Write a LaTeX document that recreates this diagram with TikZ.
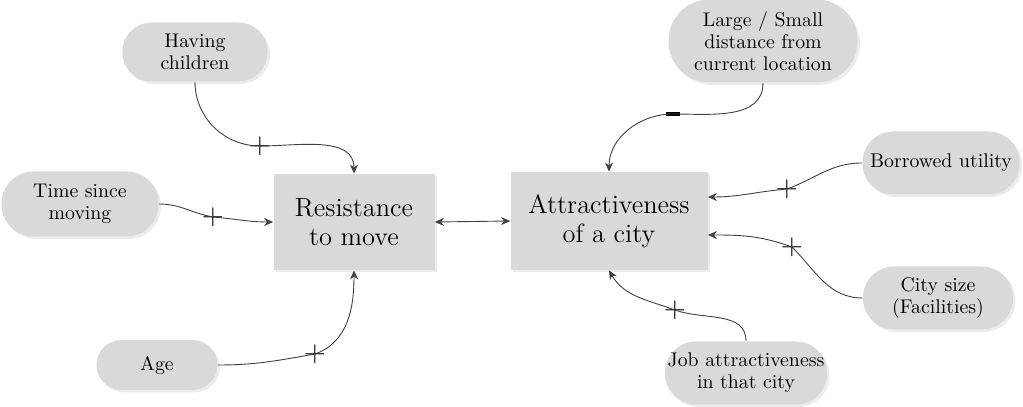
\documentclass[tikz,border=0pt]{standalone}
\usetikzlibrary{arrows.meta,shadows}

\definecolor{boxgray}{RGB}{217,217,217}
\definecolor{shadegray}{RGB}{236,236,236}
\definecolor{linegray}{RGB}{64,64,64}

\tikzset{
  factor/.style={rectangle, fill=boxgray, inner sep=0pt, align=center, font=\fontsize{13.2}{14.5}\selectfont,
                 general shadow={fill=shadegray, shadow xshift=1.2pt, shadow yshift=-1.2pt}},
  pill/.style={rectangle, rounded corners=15pt, fill=boxgray, inner sep=0pt, align=center, font=\fontsize{9.9}{11}\selectfont,
               general shadow={fill=shadegray, shadow xshift=1.2pt, shadow yshift=-1.2pt}},
  sign/.style={inner sep=0pt, text height=7.25pt, text depth=0pt, font=\fontsize{14.5}{14.5}\selectfont},
  link/.style={draw=linegray, line width=0.45pt, -{Stealth[length=4.5pt, width=4pt]}}
}

\begin{document}
\begin{tikzpicture}[x=0.5pt, y=0.5pt]

         \useasboundingbox (0,0) rectangle (1023,407);

         \node [factor, minimum width=80.5pt, minimum height=48pt]                    (resist)   at (354,185)   {Resistance\\to move};
         \node [factor, minimum width=98.5pt, minimum height=49pt]                    (attract)  at (609,186)   {Attractiveness\\of a city};

         \node [pill, minimum width=72.5pt, minimum height=29.5pt, rounded corners=14.5pt] (children) at (195,355)   {Having\\children};
         \node [pill, minimum width=78.5pt, minimum height=32.5pt, rounded corners=16pt]   (moving)   at (80,203)    {Time since\\moving};
         \node [pill, minimum width=60.5pt, minimum height=25pt, rounded corners=12.5pt]   (age)      at (157,42)    {Age};

         \node [pill, minimum width=94.5pt, minimum height=41.5pt, rounded corners=20.5pt] (distance) at (763,366)   {Large / Small\\distance from\\current location};
         \node [pill, minimum width=78.5pt, minimum height=31.5pt, rounded corners=15.5pt] (borrowed) at (941,244)   {Borrowed utility};
         \node [pill, minimum width=75pt, minimum height=31.5pt, rounded corners=15.5pt]   (citysize) at (938,109)   {City size\\(Facilities)};
         \node [pill, minimum width=81pt, minimum height=31.5pt, rounded corners=15.5pt]   (job)      at (746,34)    {Job attractiveness\\in that city};

         \node [sign] (childrenplus) at (260,261) {+};
         \node [sign] (movingplus)   at (213,190) {+};
         \node [sign] (ageplus)      at (315,53)  {+};
         \node [sign] (distminus)    at (673,293) {\rule[2.7pt]{7pt}{1.8pt}};
         \node [sign] (borrowedplus) at (787,218) {+};
         \node [sign] (citysizeplus) at (792,160) {+};
         \node [sign] (jobplus)      at (675,97)  {+};

         \draw [link] (children.south) to[out=-90, in=180] (childrenplus.center) to[out=0, in=90] (resist.north);
         \draw [link] (moving.east) to[out=0, in=170] (movingplus.center) to[out=-5, in=180] (resist.west);
         \draw [link] (age.east) to[out=0, in=-170] (ageplus.center) to[out=20, in=-90] (resist.south);

         \draw [link, {Stealth[length=4.5pt, width=4pt]}-{Stealth[length=4.5pt, width=4pt]}] (resist.east) -- (attract.west);

         \draw [link] (distance.south) to[out=-90, in=0] (distminus.center) to[out=180, in=90] (attract.north);
         \draw [link] (borrowed.west) to[out=180, in=20] (borrowedplus.center) to[out=-175, in=0] ([yshift=12pt]attract.east);
         \draw [link] (citysize.west) to[out=180, in=-45] (citysizeplus.center) to[out=160, in=0] ([yshift=-7pt]attract.east);
         \draw [link] (job.north) to[out=90, in=-20] (jobplus.center) to[out=160, in=-60] (attract.south);

\end{tikzpicture}
\end{document}
